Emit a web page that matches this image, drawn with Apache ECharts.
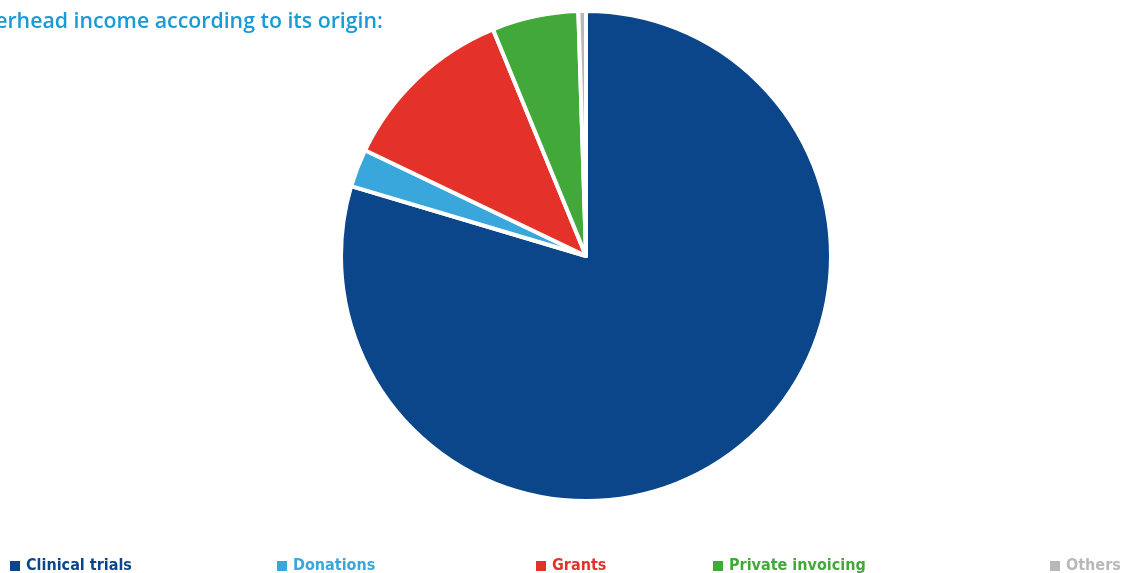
<!DOCTYPE html>
<html>
<head>
<meta charset="utf-8">
<script src="https://cdn.jsdelivr.net/npm/echarts@6/dist/echarts.min.js"></script>
<style>
  html, body { margin: 0; padding: 0; background: #fff; }
  #myChart { width: 1133px; height: 573px; }
</style>
</head>
<body>
<div id="myChart"></div>
<script>
// data (share of overhead income, %)
var categories = ['Clinical trials', 'Donations', 'Grants', 'Private invoicing', 'Others'];
var values = [79.6, 2.5, 11.7, 5.7, 0.5];
var colors = ['#0a4689', '#3aa7dc', '#e4322b', '#43a83a', '#b8b8b8'];
// legend positions of each item (x of the square)
var legendLeft = [3, 270, 529, 706, 1043];

var myChart = echarts.init(document.getElementById('myChart'));

var pieData = [];
var legends = [];
for (var i = 0; i < categories.length; i++) {
	pieData.push({ name: categories[i], value: values[i], itemStyle: { color: colors[i] } });
	legends.push({
		data: [categories[i]],
		left: legendLeft[i],
		top: 553,
		icon: 'rect',
		itemWidth: 12,
		itemHeight: 12,
		itemGap: 6,
		textStyle: {
			color: colors[i],
			fontFamily: 'DejaVu Sans Condensed',
			fontWeight: 'bold',
			fontSize: 16
		}
	});
}

var option = {
	animation: false,
	title: {
		text: 'Overhead income according to its origin:',
		left: -38,
		top: 6,
		textStyle: {
			color: '#1a9ad6',
			fontFamily: 'Open Sans',
			fontWeight: 600,
			fontSize: 21.3
		}
	},
	legend: legends,
	series: [{
		type: 'pie',
		center: [586, 256],
		radius: 245,
		startAngle: 90,
		clockwise: true,
		label: { show: false },
		labelLine: { show: false },
		itemStyle: {
			borderColor: '#fff',
			borderWidth: 4
		},
		data: pieData
	}]
};

myChart.setOption(option);
</script>
</body>
</html>
